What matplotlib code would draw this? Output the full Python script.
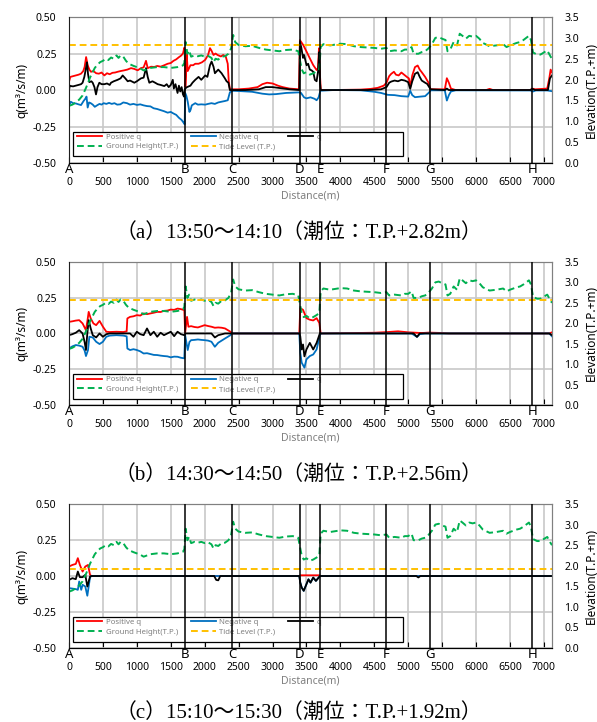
import numpy as np
import matplotlib
matplotlib.use('Agg')
import matplotlib.pyplot as plt
from matplotlib.patches import Rectangle

plt.rcParams['font.family'] = ['Noto Sans', 'DejaVu Sans']

red_c = '#FF0000'
blue_c = '#0070C0'
green_c = '#00B050'
tide_c = '#FFC000'
grid_c = '#c8c8c8'

# ground height along the line (T.P.+m), same in all three panels
ground_d = [0, 50, 100, 150, 200, 250, 280, 310, 340, 380, 420, 460, 500, 540, 580, 620, 660, 700, 730,
            760, 800, 840, 880, 950, 1000, 1050, 1100, 1150, 1200, 1300, 1400, 1500, 1600, 1680, 1700,
            1720, 1745, 1770, 1800, 1850, 1900, 1950, 2000, 2050, 2100, 2130, 2160, 2200, 2250, 2300,
            2350, 2390, 2420, 2450, 2500, 2600, 2700, 2800, 2900, 3000, 3100, 3200, 3300, 3380, 3400,
            3430, 3460, 3500, 3550, 3600, 3650, 3690, 3710, 3750, 3850, 4000, 4100, 4200, 4300, 4400,
            4500, 4600, 4680, 4720, 4800, 4900, 4950, 5000, 5050, 5080, 5150, 5200, 5250, 5300, 5350,
            5400, 5450, 5500, 5550, 5580, 5620, 5670, 5720, 5760, 5800, 5850, 5900, 5950, 6000, 6050,
            6100, 6200, 6300, 6400, 6450, 6500, 6550, 6600, 6650, 6700, 6780, 6810, 6840, 6900, 6950,
            7000, 7050, 7100, 7120]
ground_z = [1.37, 1.40, 1.45, 1.52, 1.62, 1.80, 1.92, 2.05, 2.15, 2.28, 2.36, 2.42, 2.45, 2.50, 2.47,
            2.53, 2.50, 2.58, 2.52, 2.58, 2.55, 2.45, 2.38, 2.33, 2.30, 2.27, 2.22, 2.25, 2.28, 2.30,
            2.30, 2.28, 2.30, 2.34, 2.40, 2.90, 2.62, 2.70, 2.55, 2.58, 2.56, 2.58, 2.55, 2.57, 2.52,
            2.42, 2.50, 2.48, 2.55, 2.56, 2.62, 2.75, 3.07, 2.90, 2.83, 2.80, 2.81, 2.76, 2.72, 2.70,
            2.68, 2.71, 2.72, 2.68, 2.50, 2.25, 2.15, 2.18, 2.12, 2.15, 2.20, 2.25, 2.78, 2.85, 2.82,
            2.86, 2.85, 2.80, 2.78, 2.77, 2.76, 2.74, 2.76, 2.68, 2.70, 2.68, 2.72, 2.72, 2.78, 2.62,
            2.62, 2.66, 2.68, 2.75, 2.85, 3.00, 3.02, 2.98, 2.95, 2.68, 2.72, 2.90, 2.82, 3.10, 3.05,
            2.98, 3.05, 3.03, 3.05, 2.98, 2.88, 2.80, 2.82, 2.85, 2.78, 2.82, 2.85, 2.88, 2.90, 2.95,
            3.05, 2.95, 2.65, 2.60, 2.60, 2.65, 2.70, 2.55, 2.50]

# section markers
sect_names = ['A', 'B', 'C', 'D', 'E', 'F', 'G', 'H']
sect_d = [0, 1710, 2405, 3402, 3705, 4678, 5318, 6830]

tide_levels = [2.82, 2.56, 1.92]
captions = ['（a）13:50～14:10（潮位：T.P.+2.82m）',
            '（b）14:30～14:50（潮位：T.P.+2.56m）',
            '（c）15:10～15:30（潮位：T.P.+1.92m）']

# ---- panel (a)
a_pos_d = [0, 20, 60, 100, 140, 177, 210, 230, 252, 275, 300, 324, 360, 400, 440, 480, 521, 560, 600, 640,
           680, 717, 760, 815, 860, 914, 960, 1012, 1060, 1100, 1135, 1160, 1210, 1258, 1300, 1350, 1405,
           1454, 1500, 1540, 1580, 1620, 1650, 1680, 1700, 1708, 1715, 1725, 1735, 1750, 1790, 1830, 1861,
           1910, 1960, 2008, 2050, 2078, 2100, 2130, 2160, 2190, 2239, 2273, 2310, 2340, 2355, 2372, 2400,
           2500, 2650, 2780, 2850, 2920, 3000, 3080, 3150, 3250, 3390, 3404, 3453, 3502, 3550, 3600, 3650,
           3670, 3685, 3700, 3712, 3900, 4300, 4450, 4550, 4640, 4680, 4720, 4750, 4790, 4820, 4860, 4900,
           4940, 4980, 5010, 5030, 5060, 5100, 5140, 5170, 5200, 5250, 5300, 5330, 5540, 5570, 5600, 5630,
           5700, 6150, 6200, 6250, 6800, 6830, 6870, 7050, 7080, 7100, 7120]
a_pos_q = [0.057, 0.09, 0.095, 0.10, 0.105, 0.112, 0.13, 0.158, 0.226, 0.17, 0.14, 0.125, 0.13, 0.115, 0.112,
           0.12, 0.10, 0.115, 0.108, 0.118, 0.12, 0.125, 0.13, 0.135, 0.14, 0.15, 0.145, 0.135, 0.15, 0.155,
           0.20, 0.15, 0.16, 0.158, 0.165, 0.16, 0.17, 0.18, 0.185, 0.20, 0.21, 0.225, 0.235, 0.25, 0.29, 0.26,
           0.02, 0.10, 0.25, 0.13, 0.17, 0.17, 0.18, 0.18, 0.19, 0.207, 0.24, 0.287, 0.27, 0.24, 0.25, 0.24,
           0.23, 0.24, 0.23, 0.18, 0.06, 0.005, 0.005, 0.005, 0.01, 0.02, 0.04, 0.05, 0.045, 0.03, 0.02, 0.01,
           0.005, 0.342, 0.308, 0.263, 0.217, 0.171, 0.137, 0.15, 0.286, 0.10, 0.0, 0.0, 0.003, 0.008, 0.015,
           0.03, 0.05, 0.095, 0.111, 0.125, 0.105, 0.10, 0.12, 0.105, 0.09, 0.08, 0.02, 0.10, 0.157, 0.168,
           0.14, 0.122, 0.09, 0.05, 0.005, 0.005, 0.081, 0.05, 0.01, 0.0, 0.0, 0.008, 0.0, 0.0, 0.01, 0.005,
           0.01, 0.08, 0.14, 0.12]

a_neg_d = [0, 25, 60, 100, 140, 177, 215, 240, 258, 275, 295, 320, 350, 380, 413, 450, 480, 511, 550, 590,
           630, 670, 710, 756, 800, 855, 900, 950, 1002, 1050, 1100, 1150, 1200, 1248, 1300, 1346, 1400,
           1454, 1500, 1537, 1580, 1620, 1660, 1694, 1705, 1712, 1730, 1750, 1775, 1792, 1810, 1861, 1900,
           1950, 2008, 2050, 2100, 2150, 2200, 2249, 2300, 2340, 2372, 2420, 2550, 2700, 2850, 2950, 3050,
           3200, 3390, 3420, 3465, 3500, 3560, 3620, 3650, 3680, 3705, 3900, 4300, 4500, 4600, 4700, 4800,
           4900, 5000, 5030, 5060, 5100, 5180, 5250, 5300, 5335, 5540, 5570, 5600, 5630, 5700, 6800, 6840,
           6880, 7050, 7120]
a_neg_q = [-0.11, -0.08, -0.09, -0.092, -0.098, -0.103, -0.075, -0.06, -0.045, -0.12, -0.085, -0.09, -0.10,
           -0.115, -0.105, -0.095, -0.10, -0.09, -0.095, -0.088, -0.095, -0.09, -0.10, -0.098, -0.085, -0.09,
           -0.10, -0.095, -0.102, -0.098, -0.105, -0.11, -0.112, -0.125, -0.13, -0.137, -0.145, -0.155,
           -0.15, -0.16, -0.17, -0.19, -0.205, -0.227, -0.235, -0.02, -0.04, -0.08, -0.15, -0.136, -0.105,
           -0.09, -0.10, -0.098, -0.10, -0.095, -0.09, -0.095, -0.085, -0.08, -0.075, -0.07, -0.015, -0.005,
           -0.008, -0.012, -0.025, -0.03, -0.028, -0.02, -0.016, -0.02, -0.05, -0.057, -0.05, -0.06, -0.07,
           -0.05, -0.005, 0.0, -0.002, -0.012, -0.02, -0.033, -0.035, -0.042, -0.045, -0.005, -0.035, -0.049,
           -0.045, -0.042, -0.02, -0.002, -0.002, -0.072, -0.035, -0.01, -0.002, -0.003, -0.01, -0.003,
           -0.003, -0.008]

a_q_d = [0, 12, 30, 60, 100, 140, 177, 200, 226, 250, 265, 280, 300, 330, 349, 375, 398, 420, 447, 480, 521,
         560, 600, 619, 660, 717, 760, 791, 830, 865, 900, 963, 1000, 1030, 1061, 1100, 1135, 1160, 1184,
         1230, 1270, 1307, 1350, 1405, 1440, 1470, 1500, 1530, 1545, 1570, 1600, 1620, 1640, 1660, 1680,
         1695, 1705, 1712, 1740, 1790, 1820, 1861, 1910, 1950, 2008, 2040, 2078, 2102, 2130, 2151, 2200,
         2249, 2298, 2323, 2350, 2372, 2600, 2800, 2900, 3000, 3100, 3250, 3395, 3404, 3425, 3450, 3465,
         3502, 3525, 3550, 3575, 3600, 3624, 3650, 3672, 3688, 3700, 3710, 4400, 4600, 4680, 4720, 4750,
         4800, 4850, 4900, 4950, 5000, 5030, 5060, 5100, 5140, 5170, 5200, 5250, 5280, 5330, 5540, 5570,
         5600, 6800, 6830, 6870, 7060, 7090, 7120]
a_q_q = [0.0, 0.03, 0.027, 0.025, 0.03, 0.035, 0.04, 0.05, 0.09, 0.15, 0.19, 0.11, 0.054, 0.06, 0.05, 0.02,
         -0.03, 0.02, 0.05, 0.04, 0.04, 0.045, 0.035, 0.05, 0.06, 0.07, 0.08, 0.10, 0.08, 0.06, 0.065, 0.05,
         0.06, 0.07, 0.08, 0.085, 0.15, 0.09, 0.05, 0.06, 0.05, 0.04, 0.035, 0.027, 0.04, 0.02, 0.035, 0.07,
         0.01, 0.04, -0.02, 0.03, -0.01, 0.02, -0.03, -0.045, 0.0, 0.01, 0.02, 0.03, 0.05, 0.07, 0.09, 0.07,
         0.10, 0.09, 0.17, 0.195, 0.16, 0.115, 0.14, 0.115, 0.08, 0.06, 0.05, 0.0, 0.0, 0.005, 0.02, 0.02,
         0.014, 0.005, 0.0, 0.33, 0.29, 0.22, 0.24, 0.17, 0.18, 0.14, 0.135, 0.125, 0.07, 0.06, 0.13, 0.26,
         0.05, 0.0, 0.0, 0.005, 0.02, 0.05, 0.058, 0.065, 0.06, 0.07, 0.065, 0.054, 0.008, 0.06, 0.111, 0.122,
         0.09, 0.065, 0.05, 0.042, 0.005, 0.0, 0.01, 0.0, 0.0, 0.008, 0.0, 0.0, 0.08, 0.10]

# ---- panel (b)
b_pos_d = [0, 50, 100, 150, 200, 250, 275, 290, 320, 360, 400, 450, 500, 550, 600, 700, 800, 850, 860, 900,
           950, 1000, 1050, 1100, 1150, 1200, 1250, 1300, 1350, 1400, 1450, 1500, 1550, 1600, 1650, 1700,
           1712, 1740, 1760, 1800, 1850, 1900, 1950, 2000, 2050, 2100, 2150, 2200, 2250, 2300, 2380, 2400,
           3395, 3409, 3450, 3500, 3550, 3600, 3650, 3690, 3710, 4500, 4700, 4850, 5000, 5200, 5300, 5450,
           5600, 7080, 7120]
b_pos_q = [0.081, 0.085, 0.09, 0.093, 0.07, 0.023, 0.10, 0.151, 0.105, 0.07, 0.058, 0.088, 0.047, 0.012,
           0.01, 0.012, 0.01, 0.015, 0.105, 0.116, 0.12, 0.128, 0.125, 0.14, 0.135, 0.14, 0.145, 0.151, 0.15,
           0.158, 0.16, 0.167, 0.165, 0.174, 0.17, 0.163, 0.005, 0.116, 0.047, 0.051, 0.045, 0.042, 0.05,
           0.058, 0.052, 0.047, 0.04, 0.042, 0.04, 0.035, 0.012, 0.0, 0.0, 0.177, 0.165, 0.107, 0.096, 0.091,
           0.107, 0.073, 0.0, 0.005, 0.01, 0.015, 0.008, 0.003, 0.006, 0.004, 0.0, 0.0, 0.008]

b_neg_d = [0, 50, 100, 150, 200, 230, 250, 280, 300, 350, 400, 450, 500, 550, 600, 700, 800, 850, 860, 900,
           950, 1000, 1050, 1100, 1150, 1200, 1250, 1300, 1350, 1400, 1450, 1500, 1550, 1600, 1650, 1700,
           1712, 1750, 1775, 1800, 1850, 1900, 1950, 2000, 2050, 2100, 2150, 2200, 2250, 2300, 2380, 2400,
           3395, 3409, 3430, 3470, 3500, 3550, 3600, 3650, 3700, 3720, 5050, 5100, 5130, 5170, 5250, 7080,
           7120]
b_neg_q = [-0.105, -0.09, -0.081, -0.085, -0.093, -0.12, -0.158, -0.116, -0.023, -0.028, -0.058, -0.074,
           -0.058, -0.023, -0.015, -0.012, -0.015, -0.02, -0.105, -0.116, -0.11, -0.116, -0.125, -0.14,
           -0.138, -0.144, -0.15, -0.151, -0.155, -0.158, -0.16, -0.167, -0.162, -0.163, -0.17, -0.174,
           -0.012, -0.116, -0.06, -0.047, -0.045, -0.042, -0.045, -0.047, -0.05, -0.058, -0.093, -0.065,
           -0.05, -0.035, -0.012, 0.0, 0.0, -0.135, -0.204, -0.239, -0.181, -0.158, -0.147, -0.112, -0.008,
           0.0, 0.0, -0.015, -0.024, -0.005, 0.0, 0.0, -0.02]

b_q_d = [0, 50, 100, 150, 200, 230, 250, 270, 290, 320, 350, 400, 450, 500, 550, 600, 850, 900, 950, 1000,
         1050, 1100, 1150, 1200, 1250, 1300, 1350, 1400, 1450, 1500, 1550, 1600, 1650, 1700, 1720, 2100,
         2150, 2200, 2300, 3395, 3409, 3430, 3450, 3470, 3500, 3550, 3600, 3650, 3700, 3720, 5080, 5130,
         5170, 7080, 7120]
b_q_q = [-0.012, -0.005, 0.005, 0.023, 0.0, -0.06, -0.116, 0.0, 0.093, 0.035, -0.012, -0.028, 0.0, -0.023,
         -0.005, 0.0, 0.0, 0.0, -0.023, 0.012, -0.005, -0.012, 0.035, -0.012, 0.012, -0.023, 0.005, -0.012,
         0.0, 0.012, -0.019, 0.012, -0.005, -0.012, 0.0, 0.0, -0.028, -0.012, 0.0, 0.0, -0.02, -0.112,
         -0.077, -0.16, -0.112, -0.066, -0.112, -0.066, 0.003, 0.0, 0.0, -0.024, 0.0, 0.0, -0.012]

# ---- panel (c)
c_pos_d = [0, 50, 100, 130, 160, 200, 240, 280, 310, 330, 3395, 3410, 3690, 3710, 7120]
c_pos_q = [0.066, 0.077, 0.084, 0.124, 0.077, 0.031, 0.066, 0.077, 0.008, 0.0, 0.0, 0.005, 0.005, 0.0, 0.0]

c_neg_d = [0, 100, 130, 150, 180, 200, 240, 270, 290, 310, 330, 3395, 3409, 3430, 3460, 3500, 3530, 3560,
           3600, 3640, 3680, 3700, 7120]
c_neg_q = [-0.084, -0.091, -0.096, -0.038, -0.096, -0.061, -0.073, -0.137, -0.073, -0.008, 0.0, 0.0, -0.046,
           -0.08, -0.103, -0.057, -0.023, -0.046, -0.011, -0.034, -0.011, 0.0, 0.0]

c_q_d = [0, 50, 100, 130, 160, 200, 240, 270, 290, 310, 330, 2140, 2170, 2200, 2230, 3395, 3409, 3430, 3460,
         3500, 3530, 3560, 3600, 3640, 3680, 3700, 5120, 5150, 5180, 7120]
c_q_q = [-0.027, -0.015, -0.022, 0.031, -0.008, -0.008, 0.008, -0.073, -0.038, -0.004, 0.0, 0.0, -0.027,
         -0.03, 0.0, 0.0, -0.046, -0.08, -0.103, -0.057, -0.023, -0.046, -0.011, -0.034, -0.011, 0.0, 0.0,
         -0.01, 0.0, 0.0]

panels = [
    (a_pos_d, a_pos_q, a_neg_d, a_neg_q, a_q_d, a_q_q),
    (b_pos_d, b_pos_q, b_neg_d, b_neg_q, b_q_d, b_q_q),
    (c_pos_d, c_pos_q, c_neg_d, c_neg_q, c_q_d, c_q_q),
]
# axes rectangles (figure fraction) and caption heights
ax_rects = [[0.1156, 0.7742, 0.809, 0.2022],
            [0.1156, 0.4391, 0.809, 0.1981],
            [0.1156, 0.1025, 0.809, 0.1994]]
cap_y = [0.677, 0.3415, 0.012]

fig = plt.figure(figsize=(5.97, 7.22), dpi=100)

for i, (pd_, pq, nd, nq, qd, qq) in enumerate(panels):
    ax = fig.add_axes(ax_rects[i])
    ax.set_axisbelow(True)
    l1, = ax.plot(pd_, pq, color=red_c, lw=1.3, label='Positive q')
    l2, = ax.plot(nd, nq, color=blue_c, lw=1.3, label='Negative q')
    l3, = ax.plot(qd, qq, color='black', lw=1.3, label='q')
    ax.set_xlim(0, 7120)
    ax.set_ylim(-0.5, 0.5)
    ax.set_xticks(np.arange(0, 7001, 500))
    ax.set_yticks([-0.5, -0.25, 0.0, 0.25, 0.5])
    ax.set_yticklabels(['%.2f' % v for v in [-0.5, -0.25, 0.0, 0.25, 0.5]])
    ax.grid(True, color=grid_c, lw=1.2)
    ax.tick_params(axis='y', length=0, labelsize=7.5, pad=9)
    ax.tick_params(axis='x', direction='in', length=4, width=0.8, color='black',
                   labelsize=7.5, pad=10)
    ax.set_ylabel('q(m³/s/m)', fontsize=8.5, labelpad=3)
    ax.set_xlabel('Distance(m)', fontsize=7.5, color='#7f7f7f', labelpad=2)
    for sp in ax.spines.values():
        sp.set_color('#808080')
        sp.set_linewidth(0.8)
    ax.spines['bottom'].set_color('black')

    ax2 = ax.twinx()
    l4, = ax2.plot(ground_d, ground_z, color=green_c, lw=1.4, dashes=(3.5, 2), label='Ground Height(T.P.)')
    l5 = ax2.axhline(tide_levels[i], color=tide_c, lw=1.4, dashes=(3.5, 2), label='Tide Level (T.P.)')
    ax2.set_ylim(0, 3.5)
    ax2.set_yticks(np.arange(0, 3.51, 0.5))
    ax2.set_yticklabels(['%.1f' % v for v in np.arange(0, 3.51, 0.5)])
    ax2.tick_params(length=0, labelsize=7.5, pad=9)
    ax2.set_ylabel('Elevation(T.P.+m)', fontsize=8.5, labelpad=4)
    for sp in ax2.spines.values():
        sp.set_color('#808080')
        sp.set_linewidth(0.8)
    ax2.spines['bottom'].set_color('black')

    # section lines and letters
    for name, d in zip(sect_names, sect_d):
        ax2.axvline(d, color='black', lw=1.1, zorder=6)
        ax2.text(d, 0, name, ha='center', va='top', fontsize=9.5, zorder=7)

    # legend box
    ax2.add_patch(Rectangle((0.008, 0.045), 0.684, 0.17, transform=ax2.transAxes,
                            facecolor='white', edgecolor='black', lw=0.9, zorder=4.5))
    leg = ax2.legend([l1, l4, l2, l5, l3],
                     ['Positive q', 'Ground Height(T.P.)', 'Negative q', 'Tide Level (T.P.)', 'q'],
                     ncol=3, loc='upper left', bbox_to_anchor=(0.012, 0.22), frameon=False,
                     fontsize=5.6, handlelength=3.2, handletextpad=0.5, columnspacing=1.6,
                     labelspacing=0.3, borderaxespad=0, borderpad=0.3)
    leg.set_zorder(5)
    for t in leg.get_texts():
        t.set_color('#7f7f7f')

    fig.text(0.5, cap_y[i], captions[i], ha='center', va='center', fontsize=15,
             family=['Liberation Serif', 'Noto Sans CJK JP'])

fig.savefig('out.png', dpi=100)
